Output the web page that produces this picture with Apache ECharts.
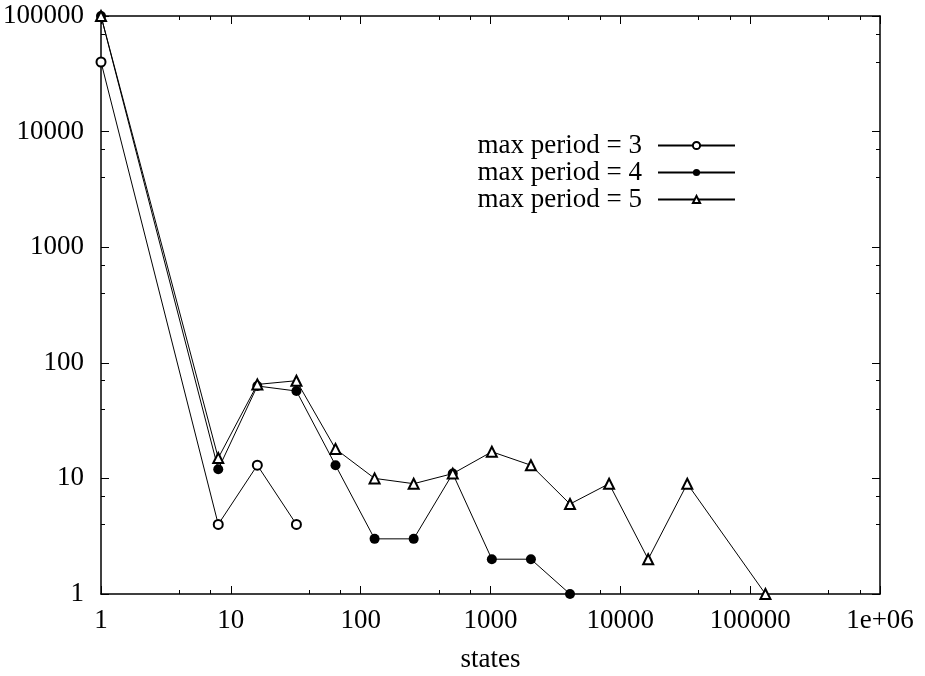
<!DOCTYPE html>
<html><head><meta charset="utf-8">
<script src="https://cdn.jsdelivr.net/npm/echarts@6/dist/echarts.min.js"></script>
<style>html,body{margin:0;padding:0;background:#fff}#c{width:925px;height:676px}</style>
</head><body><div id="c"></div>
<script>
const seriesNames = ['max period = 3', 'max period = 4', 'max period = 5'];
const states3 = [1, 8, 16, 32];
const counts3 = [40000, 4, 13, 4];
const states4 = [1, 8, 16, 32, 64, 128, 256, 512, 1024, 2048, 4096];
const counts4 = [100000, 12, 63, 57, 13, 3, 3, 11, 2, 2, 1];
const states5 = [1, 8, 16, 32, 64, 128, 256, 512, 1024, 2048, 4096, 8192, 16384, 32768, 131072];
const counts5 = [100000, 15, 65, 70, 18, 10, 9, 11, 17, 13, 6, 9, 2, 9, 1];
const xAxisName = 'states';

const pairs = (xs, ys) => xs.map((x, i) => [x, ys[i]]);
const font = 'Liberation Serif';
const fs = 27;
const fmt = v => v >= 1e6 ? '1e+06' : String(Math.round(v));

const axisLine = {show: true, onZero: false, lineStyle: {color: '#000', width: 1.5}};
const tick = {show: true, inside: true, length: 8, lineStyle: {color: '#000', width: 1}};
const minor = {show: true, splitNumber: 3, length: 4, lineStyle: {color: '#000', width: 1}};

const chart = echarts.init(document.getElementById('c'), null, {renderer: 'canvas'});
chart.setOption({
  backgroundColor: '#fff',
  animation: false,
  textStyle: {fontFamily: font},
  grid: {left: 101, right: 45, top: 16, bottom: 82, containLabel: false, outerBoundsMode: 'none'},
  legend: {
    orient: 'vertical', right: 184, top: 127, align: 'right',
    itemWidth: 77, itemHeight: 9, itemGap: 0,
    textStyle: {fontFamily: font, fontSize: fs, color: '#000', padding: [0, 11, 0, 0], lineHeight: 27},
    data: seriesNames
  },
  xAxis: [{
    type: 'log', logBase: 10, min: 1, max: 1e6, position: 'bottom',
    name: xAxisName, nameLocation: 'middle', nameGap: 52,
    nameTextStyle: {fontFamily: font, fontSize: fs, color: '#000'},
    axisLine, axisTick: tick, minorTick: minor, splitLine: {show: false}, minorSplitLine: {show: false},
    axisLabel: {fontFamily: font, fontSize: fs, color: '#000', margin: 13, formatter: fmt}
  }, {
    type: 'log', logBase: 10, min: 1, max: 1e6, position: 'top',
    axisLine, axisTick: tick, minorTick: minor, splitLine: {show: false},
    axisLabel: {show: false}
  }],
  yAxis: [{
    type: 'log', logBase: 10, min: 1, max: 100000, position: 'left',
    axisLine, axisTick: tick, minorTick: minor, splitLine: {show: false}, minorSplitLine: {show: false},
    axisLabel: {fontFamily: font, fontSize: fs, color: '#000', margin: 17, formatter: fmt}
  }, {
    type: 'log', logBase: 10, min: 1, max: 100000, position: 'right',
    axisLine, axisTick: tick, minorTick: minor, splitLine: {show: false},
    axisLabel: {show: false}
  }],
  series: [{
    name: seriesNames[0], type: 'line', data: pairs(states3, counts3),
    symbol: 'emptyCircle', symbolSize: 9, color: '#000',
    lineStyle: {color: '#000', width: 1}, itemStyle: {color: '#000', borderWidth: 1}
  }, {
    name: seriesNames[1], type: 'line', data: pairs(states4, counts4),
    symbol: 'circle', symbolSize: 10, color: '#000',
    lineStyle: {color: '#000', width: 1}, itemStyle: {color: '#000'}
  }, {
    name: seriesNames[2], type: 'line', data: pairs(states5, counts5),
    symbol: 'emptyTriangle', symbolSize: 10, color: '#000',
    lineStyle: {color: '#000', width: 1}, itemStyle: {color: '#000', borderWidth: 1}
  }]
});
</script></body></html>
